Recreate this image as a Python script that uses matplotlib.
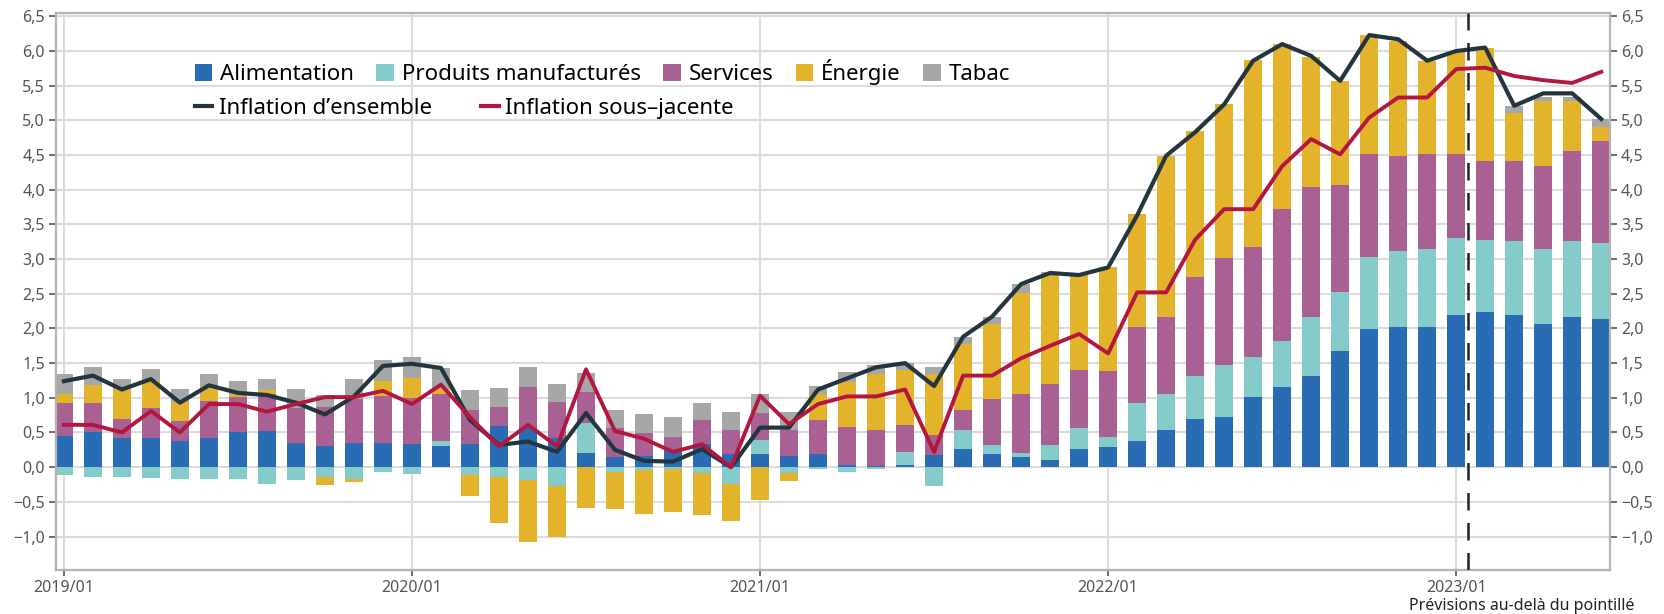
import numpy as np
import matplotlib.pyplot as plt
from matplotlib.patches import Patch
from matplotlib.lines import Line2D

plt.rcParams['font.family'] = ['Noto Sans', 'DejaVu Sans']

# monthly data, 2019/01 .. 2023/06 (contributions, points de %)
months = [f"{y}/{m:02d}" for y in range(2019, 2024) for m in range(1, 13)][:54]

alimentation = [0.45, 0.50, 0.42, 0.42, 0.38, 0.42, 0.50, 0.52, 0.35, 0.30, 0.35, 0.35,
                0.33, 0.30, 0.33, 0.59, 0.57, 0.42, 0.20, 0.15, 0.16, 0.24, 0.34, 0.19,
                0.19, 0.16, 0.19, 0.03, 0.02, 0.03, 0.17, 0.26, 0.19, 0.14, 0.11, 0.26,
                0.29, 0.38, 0.53, 0.69, 0.73, 1.01, 1.15, 1.32, 1.67, 1.99, 2.02, 2.02,
                2.19, 2.24, 2.19, 2.07, 2.17, 2.14]
manufactures = [-0.12, -0.14, -0.14, -0.15, -0.17, -0.17, -0.17, -0.24, -0.19, -0.14, -0.17, -0.07,
                -0.10, 0.08, -0.12, -0.14, -0.19, -0.27, 0.44, -0.07, -0.04, -0.02, -0.08, -0.24,
                0.20, -0.08, -0.03, -0.07, -0.02, 0.19, -0.27, 0.27, 0.13, 0.06, 0.21, 0.30,
                0.15, 0.55, 0.52, 0.63, 0.75, 0.58, 0.67, 0.84, 0.86, 1.04, 1.09, 1.12,
                1.11, 1.04, 1.07, 1.07, 1.09, 1.09]
services = [0.47, 0.42, 0.28, 0.44, 0.29, 0.54, 0.51, 0.53, 0.51, 0.57, 0.63, 0.68,
            0.67, 0.68, 0.49, 0.28, 0.59, 0.52, 0.44, 0.42, 0.33, 0.20, 0.34, 0.34,
            0.39, 0.37, 0.49, 0.55, 0.51, 0.39, 0.29, 0.30, 0.66, 0.85, 0.88, 0.84,
            0.94, 1.09, 1.11, 1.42, 1.53, 1.58, 1.90, 1.88, 1.54, 1.48, 1.37, 1.37,
            1.21, 1.14, 1.16, 1.20, 1.30, 1.48]
energie = [0.14, 0.27, 0.42, 0.40, 0.27, 0.21, 0.04, 0.06, 0.00, -0.12, -0.05, 0.21,
           0.29, 0.08, -0.30, -0.66, -0.89, -0.74, -0.59, -0.54, -0.63, -0.63, -0.61, -0.53,
           -0.48, -0.12, 0.37, 0.65, 0.81, 0.79, 0.89, 0.95, 1.09, 1.46, 1.56, 1.37,
           1.50, 1.63, 2.33, 2.10, 2.22, 2.70, 2.38, 1.88, 1.50, 1.72, 1.66, 1.35,
           1.48, 1.63, 0.69, 0.94, 0.72, 0.20]
tabac = [0.28, 0.25, 0.15, 0.15, 0.18, 0.17, 0.19, 0.16, 0.26, 0.17, 0.29, 0.30,
         0.30, 0.29, 0.29, 0.27, 0.28, 0.26, 0.28, 0.26, 0.27, 0.29, 0.25, 0.27,
         0.27, 0.27, 0.12, 0.14, 0.13, 0.10, 0.10, 0.09, 0.09, 0.13, 0.05, 0.00,
         0.00, 0.00, 0.00, 0.00, 0.00, 0.00, 0.00, 0.00, 0.00, 0.00, 0.00, 0.00,
         0.00, 0.00, 0.10, 0.06, 0.06, 0.11]

inflation_ensemble = [1.24, 1.32, 1.12, 1.27, 0.93, 1.18, 1.07, 1.04, 0.93, 0.76, 1.02, 1.46,
                      1.49, 1.43, 0.68, 0.32, 0.37, 0.22, 0.78, 0.25, 0.09, 0.08, 0.26, 0.00,
                      0.57, 0.57, 1.12, 1.28, 1.44, 1.50, 1.17, 1.88, 2.17, 2.64, 2.80, 2.77,
                      2.88, 3.63, 4.49, 4.83, 5.23, 5.86, 6.10, 5.93, 5.57, 6.23, 6.17, 5.86,
                      6.00, 6.05, 5.21, 5.39, 5.39, 5.02]
inflation_sous_jacente = [0.61, 0.61, 0.50, 0.81, 0.50, 0.91, 0.91, 0.80, 0.91, 1.01, 1.01, 1.10,
                          0.91, 1.19, 0.72, 0.30, 0.61, 0.30, 1.41, 0.52, 0.41, 0.22, 0.33, 0.00,
                          1.03, 0.62, 0.91, 1.02, 1.02, 1.12, 0.22, 1.32, 1.32, 1.57, 1.75, 1.92,
                          1.64, 2.52, 2.52, 3.28, 3.72, 3.72, 4.34, 4.73, 4.51, 5.04, 5.33, 5.33,
                          5.74, 5.76, 5.64, 5.58, 5.54, 5.70]

labels = ["Alimentation", "Produits manufacturés", "Services", "Énergie", "Tabac"]
colors = ["#2a6cb4", "#84cbca", "#a86192", "#e2b32b", "#a7a7a7"]
forecast_start = 48.4  # dashed line between 2023/01 and 2023/02

fig = plt.figure(figsize=(16.64, 6.14), dpi=100)
ax = fig.add_axes([0.0337, 0.072, 0.9338, 0.907])

x = np.arange(len(months))
pos_base = np.zeros(len(x))
neg_base = np.zeros(len(x))
for vals, lab, col in zip([alimentation, manufactures, services, energie, tabac], labels, colors):
    v = np.array(vals)
    pos = np.where(v > 0, v, 0)
    neg = np.where(v < 0, v, 0)
    ax.bar(x, pos, 0.64, bottom=pos_base, color=col, zorder=2)
    ax.bar(x, neg, 0.64, bottom=neg_base, color=col, zorder=2)
    pos_base += pos
    neg_base += neg

ax.plot(x, inflation_ensemble, color="#233640", lw=3, zorder=4)
ax.plot(x, inflation_sous_jacente, color="#b3163f", lw=2.8, zorder=4)

ax.axvline(forecast_start, color="#222222", lw=1.8, ls=(0, (7, 5)), zorder=5)

# axes, grid
ax.set_xlim(-0.27, 53.3)
ax.set_ylim(-1.48, 6.55)
yt = np.arange(-1.0, 6.51, 0.5)
ax.set_yticks(yt)
ax.set_yticklabels([f"{t:.1f}".replace(".", ",").replace("-", "\u2212") for t in yt])
ax.set_xticks(x[::12])
ax.set_xticklabels(months[::12])
ax.grid(axis="y", color="#dcdcdc", lw=1.5, zorder=0)
ax.grid(axis="x", color="#dcdcdc", lw=1.5, zorder=0)
ax.set_axisbelow(True)
ax.tick_params(axis="y", labelright=True, right=True, labelsize=11.5,
               colors="#555555", length=5, width=1.2, pad=3)
ax.tick_params(axis="x", labelsize=11.5, colors="#555555", length=4, width=1.2, pad=3)
for s in ax.spines.values():
    s.set_color("#b4b4b4")
    s.set_linewidth(1.6)

# legends
bar_handles = [Patch(facecolor=c, edgecolor="none") for c in colors]
leg1 = ax.legend(bar_handles, labels, ncol=5, loc="center left", bbox_to_anchor=(0.082, 0.894),
                 frameon=False, fontsize=16, handlelength=0.8, handleheight=0.8,
                 handletextpad=0.35, columnspacing=1.0, borderpad=0)
ax.add_artist(leg1)
line_handles = [Line2D([0], [0], color="#233640", lw=3), Line2D([0], [0], color="#b3163f", lw=3)]
ax.legend(line_handles, ["Inflation d\u2019ensemble", "Inflation sous\u2013jacente"], ncol=2,
          loc="center left", bbox_to_anchor=(0.082, 0.829), frameon=False, fontsize=16,
          handlelength=0.8, handletextpad=0.3, columnspacing=2.2, borderpad=0)

fig.text(0.982, 0.013, "Prévisions au-delà du pointillé", ha="right", va="center",
         fontsize=11.5, color="#222222")

fig.savefig("out.png", dpi=100)
